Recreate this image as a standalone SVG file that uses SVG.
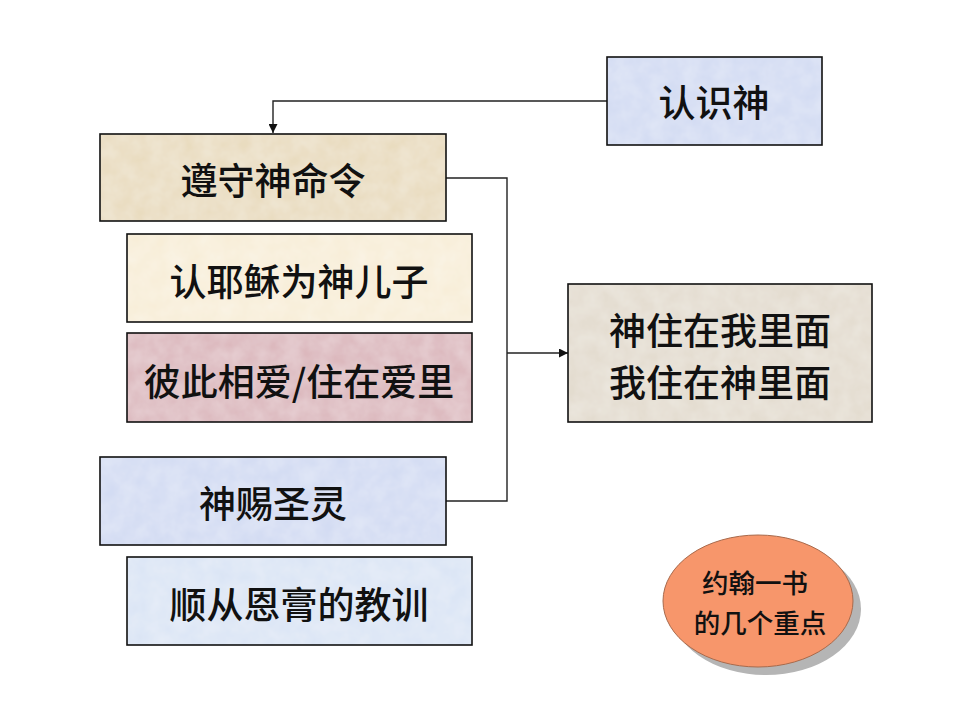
<svg xmlns="http://www.w3.org/2000/svg" width="960" height="720" viewBox="0 0 960 720">
  <defs>
    <style>
      .edge { fill: none; stroke: #111; stroke-width: 1.6; }
      .lbl { font-family: "Noto Sans CJK SC", "Noto Sans", sans-serif; font-size: 37px; font-weight: 500; fill: #111; text-anchor: middle; dominant-baseline: central; }
      .small { font-size: 26.5px; }
      .conn { fill: none; stroke: #222; stroke-width: 1.4; }
      .blue { fill: #d3dcf3; }
      .parch { fill: #e9dcbf; }
      .cream { fill: #f8eed8; }
      .rose { fill: #dcb8bd; }
      .lblue { fill: #dbe5f5; }
      .gray { fill: #e3dccf; }
    </style>
    <marker id="arr" viewBox="0 0 10 10" refX="10" refY="5" markerWidth="9" markerHeight="9" markerUnits="userSpaceOnUse" orient="auto">
      <path d="M0,0 L10,5 L0,10 z" fill="#111"/>
    </marker>
    <filter id="tex" x="0" y="0" width="100%" height="100%">
      <feTurbulence type="fractalNoise" baseFrequency="0.06" numOctaves="3" seed="4" result="n"/>
      <feColorMatrix in="n" type="matrix" values="0 0 0 0 1  0 0 0 0 1  0 0 0 0 1  0 0 0 0.35 -0.05" result="w"/>
      <feComposite in="w" in2="SourceGraphic" operator="in" result="wc"/>
      <feMerge><feMergeNode in="SourceGraphic"/><feMergeNode in="wc"/></feMerge>
    </filter>
  </defs>
  <rect width="960" height="720" fill="#ffffff"/>

  <g id="connectors">
    <path class="conn" d="M607,101 H273 V133" marker-end="url(#arr)"/>
    <path class="conn" d="M446,178 H507 V501 H446"/>
    <path class="conn" d="M507,353 H568" marker-end="url(#arr)"/>
  </g>

  <g id="node-know-god">
    <rect class="blue" x="607" y="57" width="215" height="88" filter="url(#tex)"/>
    <rect class="edge" x="607" y="57" width="215" height="88"/>
    <text class="lbl" x="714" y="101">认识神</text>
  </g>
  <g id="node-keep-commands">
    <rect class="parch" x="100" y="134" width="346" height="87" filter="url(#tex)"/>
    <rect class="edge" x="100" y="134" width="346" height="87"/>
    <text class="lbl" x="273" y="179">遵守神命令</text>
  </g>
  <g id="node-confess-son">
    <rect class="cream" x="127" y="234" width="345" height="88" filter="url(#tex)"/>
    <rect class="edge" x="127" y="234" width="345" height="88"/>
    <text class="lbl" x="299" y="280">认耶稣为神儿子</text>
  </g>
  <g id="node-love">
    <rect class="rose" x="127" y="333" width="345" height="89" filter="url(#tex)"/>
    <rect class="edge" x="127" y="333" width="345" height="89"/>
    <text class="lbl" x="299" y="380">彼此相爱/住在爱里</text>
  </g>
  <g id="node-spirit">
    <rect class="blue" x="100" y="457" width="346" height="88" filter="url(#tex)"/>
    <rect class="edge" x="100" y="457" width="346" height="88"/>
    <text class="lbl" x="273" y="502">神赐圣灵</text>
  </g>
  <g id="node-anointing">
    <rect class="lblue" x="127" y="557" width="345" height="88" filter="url(#tex)"/>
    <rect class="edge" x="127" y="557" width="345" height="88"/>
    <text class="lbl" x="299" y="603">顺从恩膏的教训</text>
  </g>
  <g id="node-abide">
    <rect class="gray" x="568" y="284" width="304" height="138" filter="url(#tex)"/>
    <rect class="edge" x="568" y="284" width="304" height="138"/>
    <text class="lbl" x="720" y="329">神住在我里面</text>
    <text class="lbl" x="720" y="381">我住在神里面</text>
  </g>
  <g id="node-title">
    <ellipse cx="766" cy="609" rx="95" ry="66" fill="#b5b5b5"/>
    <ellipse cx="758" cy="601" rx="95" ry="66" fill="#f7966b" stroke="#a86a4c" stroke-width="1"/>
    <text class="lbl small" x="755" y="581">约翰一书</text>
    <text class="lbl small" x="760" y="621">的几个重点</text>
  </g>
</svg>
